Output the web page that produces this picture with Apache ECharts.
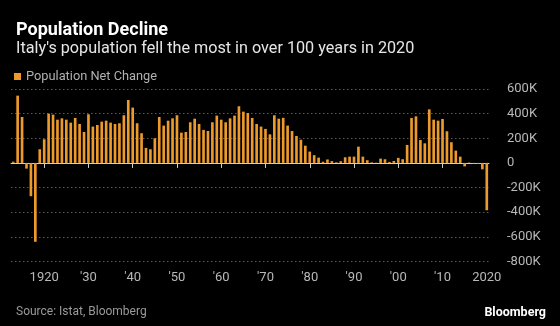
<!DOCTYPE html>
<html>
<head>
<meta charset="utf-8">
<script src="https://cdn.jsdelivr.net/npm/echarts@6/dist/echarts.min.js"></script>
<style>
  html, body { margin: 0; padding: 0; background: #000; }
  #chart { width: 560px; height: 326px; }
</style>
</head>
<body>
<div id="chart"></div>
<script>
// Yearly net change of Italy's resident population, 1913-2020 (persons)
const years = [];
for (let y = 1913; y <= 2020; y++) years.push(String(y));

const netChangeK = [
  10, 546, 373, -46, -270, -640, 111,                 // 1913-1919
  192, 400, 392, 351, 362, 351, 327, 365, 316, 251,   // 1920s
  395, 295, 308, 335, 343, 327, 316, 322, 387, 511,   // 1930s
  449, 322, 241, 122, 111, 200, 373, 303, 343, 362,   // 1940s
  387, 246, 251, 330, 359, 316, 268, 259, 330, 384,   // 1950s
  351, 330, 362, 384, 460, 416, 405, 365, 316, 295,   // 1960s
  276, 232, 387, 359, 366, 303, 259, 219, 188, 140,   // 1970s
  92, 63, 43, 10, 28, 15, 5, 14, 46, 51,              // 1980s
  51, 132, 51, 22, 5, 2, 35, 30, 8, 16,               // 1990s
  41, 30, 146, 365, 378, 186, 159, 435, 351, 343,     // 2000s
  357, 257, 168, 100, 51, -28, 3, -5, -9, -52,        // 2010s
  -384                                                // 2020
];
const netChange = netChangeK.map(v => v * 1000);

// Decade tick labels on the year axis
const tickYears = ['1920', '1930', '1940', '1950', '1960', '1970', '1980', '1990', '2000', '2010', '2020'];
const tickLabels = ['1920', "'30", "'40", "'50", "'60", "'70", "'80", "'90", "'00", "'10", '2020'];

const yTicks = { min: -800000, max: 600000, step: 200000 };

const FONT = 'Roboto, "Liberation Sans", sans-serif';
const ORANGE = '#ec9a2c';

const chart = echarts.init(document.getElementById('chart'), null, { renderer: 'canvas' });

chart.setOption({
  backgroundColor: '#000',
  animation: false,
  title: [
    {
      text: 'Population Decline',
      left: 11, top: 16,
      textStyle: { color: '#fff', fontFamily: FONT, fontWeight: 'bold', fontSize: 18 }
    },
    {
      text: "Italy's population fell the most in over 100 years in 2020",
      left: 11, top: 36,
      textStyle: { color: '#e6e6e6', fontFamily: FONT, fontWeight: 'normal', fontSize: 16.2 }
    },
    {
      text: 'Source: Istat, Bloomberg',
      left: 11, top: 301,
      textStyle: { color: '#9a9a9a', fontFamily: FONT, fontWeight: 'normal', fontSize: 12 }
    },
    {
      text: 'Bloomberg',
      right: 9, top: 301,
      textStyle: { color: '#fff', fontFamily: FONT, fontWeight: 'bold', fontSize: 12.5 }
    }
  ],
  legend: {
    left: 9, top: 65,
    itemWidth: 7, itemHeight: 7, itemGap: 6,
    icon: 'rect',
    textStyle: { color: '#b0b0b0', fontFamily: FONT, fontSize: 12.8 },
    data: ['Population Net Change']
  },
  grid: { left: 11, right: 71, top: 89, bottom: 64.5, containLabel: false },
  xAxis: {
    type: 'category',
    data: years,
    boundaryGap: true,
    axisLine: { show: true, lineStyle: { color: '#cfcfcf', width: 1 } },
    axisTick: {
      show: true, alignWithLabel: true, length: 5,
      interval: (i, v) => tickYears.includes(v),
      lineStyle: { color: '#cfcfcf' }
    },
    axisLabel: {
      interval: (i, v) => tickYears.includes(v),
      formatter: v => tickLabels[tickYears.indexOf(v)],
      color: '#b8b8b8', fontFamily: FONT, fontSize: 13, margin: 10
    },
    splitLine: { show: false }
  },
  yAxis: {
    type: 'value',
    position: 'right',
    min: yTicks.min, max: yTicks.max, interval: yTicks.step,
    axisLine: { show: false },
    axisTick: { show: false },
    axisLabel: {
      align: 'left', margin: 18,
      color: '#b8b8b8', fontFamily: FONT, fontSize: 13,
      formatter: v => (v === 0 ? '0' : (v / 1000) + 'K')
    },
    splitLine: { show: true, lineStyle: { color: '#5a5a5a', type: [1.5, 2.5], width: 1 } }
  },
  series: [{
    name: 'Population Net Change',
    type: 'bar',
    data: netChange,
    barWidth: '60%',
    itemStyle: { color: ORANGE },
    silent: true
  }]
});
</script>
</body>
</html>
